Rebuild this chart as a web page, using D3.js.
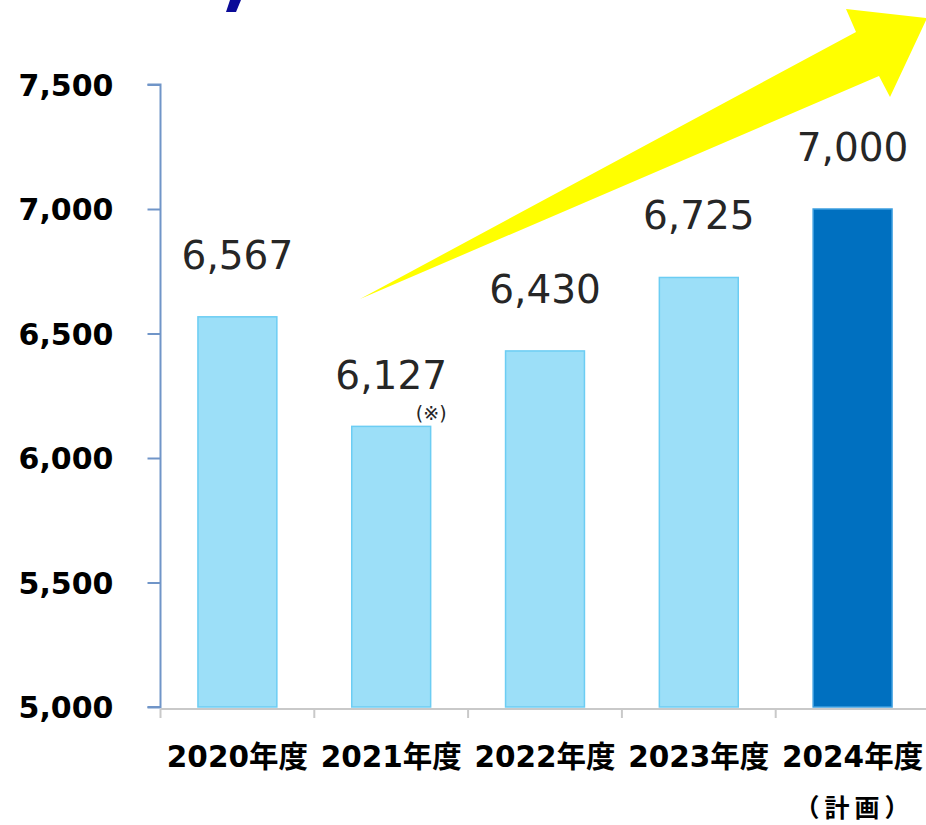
<!DOCTYPE html>
<html>
<head>
<meta charset="utf-8">
<script src="https://cdn.jsdelivr.net/npm/d3@7"></script>
<style>
  html, body { margin: 0; padding: 0; background: #fff; }
  svg { display: block; }
</style>
</head>
<body>
<svg id="chart" width="926" height="825"></svg>
<script>
// ---- data ----
const categories = ["2020年度", "2021年度", "2022年度", "2023年度", "2024年度"];
const subLabels = ["", "", "", "", "（計画）"];
const values = [6567, 6127, 6430, 6725, 7000];
const valueLabels = ["6,567", "6,127", "6,430", "6,725", "7,000"];
const notes = ["", "(※)", "", "", ""];
const isPlan = [false, false, false, false, true];
const yTicks = [5000, 5500, 6000, 6500, 7000, 7500];

// ---- layout ----
const svg = d3.select("#chart");
const plotLeft = 160.5, plotRight = 929.5, plotTop = 84.5, plotBottom = 707;
const latin = "'DejaVu Sans', Verdana, 'Noto Sans CJK JP', sans-serif";

const x = d3.scaleBand().domain(categories).range([plotLeft, plotRight])
  .paddingInner(0.487).paddingOuter(0.2435);
const y = d3.scaleLinear().domain([5000, 7500]).range([plotBottom, plotTop]);

// decorative fragment of cut-off title (top)
svg.append("path")
  .attr("d", "M230,0 L241,0 L236,12 L226,12 Z")
  .attr("fill", "#0b0b98");

// yellow arrow
svg.append("path")
  .attr("d", "M360,299 L856,32 L846,9 L927,18 L890,97 L879,76 Z")
  .attr("fill", "#ffff00");

// x axis (gray baseline with category dividers)
const xAxisG = svg.append("g");
xAxisG.append("line")
  .attr("x1", plotLeft).attr("x2", 926).attr("y1", 709).attr("y2", 709)
  .attr("stroke", "#c9c9c9").attr("stroke-width", 2);
const step = x.step();
d3.range(categories.length + 1).forEach(i => {
  const xx = plotLeft + i * step;
  xAxisG.append("line")
    .attr("x1", xx).attr("x2", xx).attr("y1", 709).attr("y2", 718)
    .attr("stroke", "#c9c9c9").attr("stroke-width", 2);
});

// y axis
const yAxis = d3.axisLeft(y).tickValues(yTicks).tickSize(13).tickPadding(0)
  .tickFormat(d3.format(","));
const yG = svg.append("g").attr("transform", `translate(${plotLeft},0)`).call(yAxis);
yG.select(".domain").attr("stroke", "#7095c8").attr("stroke-width", 2)
  .attr("d", `M-13,${plotTop}H0V${plotBottom}H-13`);
yG.selectAll(".tick line").attr("stroke", "#7095c8").attr("stroke-width", 2);
yG.selectAll(".tick text")
  .attr("x", -47)
  .attr("dy", "0.36em")
  .attr("fill", "#000")
  .style("font-family", latin)
  .style("font-weight", "bold")
  .style("font-size", "30px");

// bars
svg.append("g").selectAll("rect")
  .data(values)
  .join("rect")
  .attr("x", (d, i) => x(categories[i]))
  .attr("width", x.bandwidth())
  .attr("y", d => y(d))
  .attr("height", d => y(5000) - y(d))
  .attr("fill", (d, i) => isPlan[i] ? "#0070c0" : "#9cdff8")
  .attr("stroke", (d, i) => isPlan[i] ? "#3d9fe0" : "#6ccdf3")
  .attr("stroke-width", 1.5);

// value labels
svg.append("g").selectAll("text")
  .data(values)
  .join("text")
  .attr("x", (d, i) => x(categories[i]) + x.bandwidth() / 2)
  .attr("y", (d, i) => y(d) - (notes[i] ? 37 : 48))
  .attr("text-anchor", "middle")
  .attr("fill", "#262626")
  .style("font-family", latin)
  .style("font-size", "39px")
  .text((d, i) => valueLabels[i]);

// notes
svg.append("g").selectAll("text")
  .data(values)
  .join("text")
  .attr("x", (d, i) => x(categories[i]) + x.bandwidth() / 2 + 40)
  .attr("y", (d, i) => y(d) - 6)
  .attr("text-anchor", "middle")
  .attr("fill", "#262626")
  .style("font-family", latin)
  .style("font-size", "19px")
  .text((d, i) => notes[i]);

// category labels
svg.append("g").selectAll("text")
  .data(categories)
  .join("text")
  .attr("x", d => x(d) + x.bandwidth() / 2)
  .attr("y", 767)
  .attr("text-anchor", "middle")
  .attr("fill", "#000")
  .style("font-family", latin)
  .style("font-weight", "bold")
  .style("font-size", "29.5px")
  .text(d => d);

svg.append("g").selectAll("text")
  .data(subLabels)
  .join("text")
  .attr("x", (d, i) => x(categories[i]) + x.bandwidth() / 2 + 2)
  .attr("y", 817)
  .attr("text-anchor", "middle")
  .attr("fill", "#000")
  .style("font-family", "'Noto Sans CJK JP', sans-serif")
  .style("font-weight", "bold")
  .style("font-size", "25px")
  .style("letter-spacing", "5px")
  .text(d => d);
</script>
</body>
</html>
